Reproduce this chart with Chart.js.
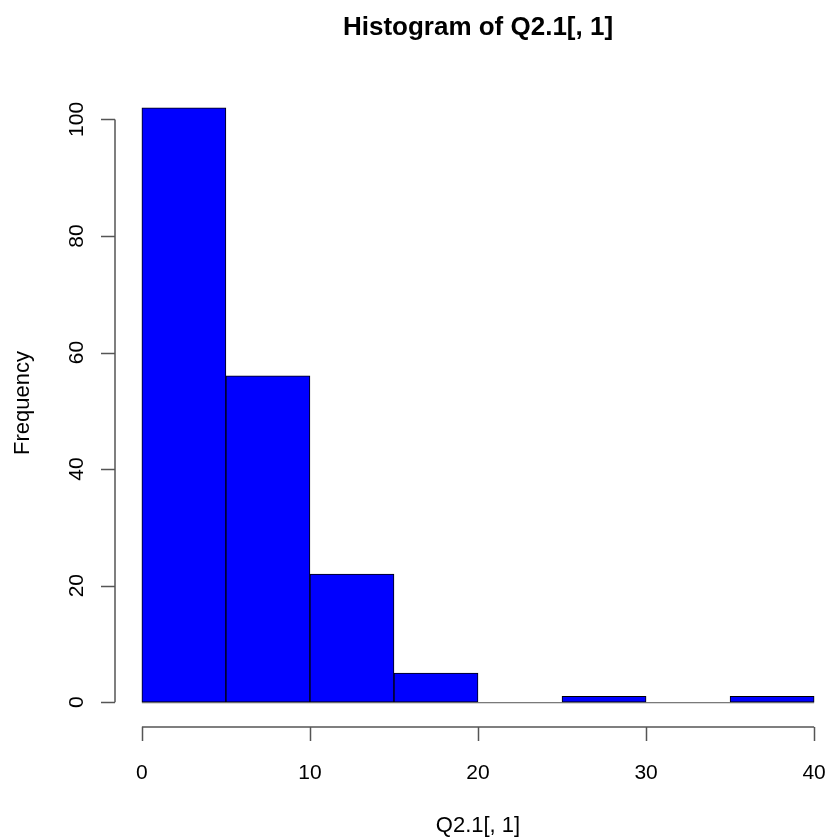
<!DOCTYPE html>
<html>
<head>
<meta charset="utf-8">
<script src="https://cdn.jsdelivr.net/npm/chart.js@4/dist/chart.umd.min.js"></script>
<style>
  html, body { margin: 0; padding: 0; background: #fff; overflow: hidden; }
  #wrap { width: 856px; height: 838px; }
</style>
</head>
<body>
<div id="wrap"><canvas id="histChart"></canvas></div>
<script>
// dados do histograma (intervalos de 5)
const binStarts = [0, 5, 10, 15, 20, 25, 30, 35];
const binWidth = 5;
const counts = [102, 56, 22, 5, 0, 1, 0, 1];
const xTicks = [0, 10, 20, 30, 40];
const yTicks = [0, 20, 40, 60, 80, 100];

const FONT = '"Liberation Sans", Arial, Helvetica, sans-serif';

// eixos no estilo do R (desenhados à mão)
const rAxes = {
    id: 'rAxes',
    afterDraw(chart) {
        const { ctx, chartArea, scales: { x, y } } = chart;
        ctx.save();
        ctx.strokeStyle = '#555';
        ctx.lineWidth = 1.5;
        ctx.fillStyle = '#000';

        // linha de base em zero
        ctx.beginPath();
        ctx.moveTo(x.getPixelForValue(xTicks[0]), y.getPixelForValue(0) + 0.5);
        ctx.lineTo(x.getPixelForValue(xTicks[xTicks.length - 1]), y.getPixelForValue(0) + 0.5);
        ctx.lineWidth = 1;
        ctx.stroke();
        ctx.lineWidth = 1.5;

        // eixo x
        const ax = chartArea.bottom + 1;
        ctx.beginPath();
        ctx.moveTo(x.getPixelForValue(xTicks[0]), ax);
        ctx.lineTo(x.getPixelForValue(xTicks[xTicks.length - 1]), ax);
        xTicks.forEach(t => {
            const px = Math.round(x.getPixelForValue(t)) + 0.5;
            ctx.moveTo(px, ax);
            ctx.lineTo(px, ax + 14);
        });
        ctx.stroke();
        ctx.font = '21px ' + FONT;
        ctx.textAlign = 'center';
        ctx.textBaseline = 'middle';
        xTicks.forEach(t => ctx.fillText(String(t), x.getPixelForValue(t), 773));

        // eixo y
        const ay = chartArea.left;
        ctx.beginPath();
        ctx.moveTo(ay, y.getPixelForValue(yTicks[0]));
        ctx.lineTo(ay, y.getPixelForValue(yTicks[yTicks.length - 1]));
        yTicks.forEach(t => {
            const py = Math.round(y.getPixelForValue(t)) + 0.5;
            ctx.moveTo(ay, py);
            ctx.lineTo(ay - 14, py);
        });
        ctx.stroke();
        yTicks.forEach(t => {
            ctx.save();
            ctx.translate(77, y.getPixelForValue(t));
            ctx.rotate(-Math.PI / 2);
            ctx.fillText(String(t), 0, 0);
            ctx.restore();
        });

        // títulos
        ctx.font = '22px ' + FONT;
        ctx.fillText('Q2.1[, 1]', (chartArea.left + chartArea.right) / 2, 826);
        ctx.save();
        ctx.translate(23, 403);
        ctx.rotate(-Math.PI / 2);
        ctx.fillText('Frequency', 0, 0);
        ctx.restore();

        ctx.font = 'bold 26px ' + FONT;
        ctx.fillText('Histogram of Q2.1[, 1]', (chartArea.left + chartArea.right) / 2, 28);
        ctx.restore();
    }
};

window.addEventListener('DOMContentLoaded', () => {
    const ctx = document.getElementById('histChart').getContext('2d');
    const yMax = Math.max(...counts);

    new Chart(ctx, {
        type: 'bar',
        data: {
            datasets: [{
                data: binStarts.map((b, i) => ({ x: b + binWidth / 2, y: counts[i] })),
                backgroundColor: '#0000ff',
                borderColor: '#000',
                borderWidth: 1,
                borderSkipped: false,
                barPercentage: 1,
                categoryPercentage: 1
            }]
        },
        plugins: [rAxes],
        options: {
            responsive: true,
            maintainAspectRatio: false,
            animation: false,
            layout: { padding: { left: 115, right: 15, top: 84, bottom: 112 } },
            plugins: {
                legend: { display: false },
                title: { display: false },
                tooltip: { enabled: false }
            },
            scales: {
                x: { type: 'linear', display: false, offset: false, min: -1.6, max: 41.6 },
                y: { display: false, min: -0.04 * yMax, max: 1.04 * yMax }
            }
        }
    });
});
</script>
</body>
</html>
